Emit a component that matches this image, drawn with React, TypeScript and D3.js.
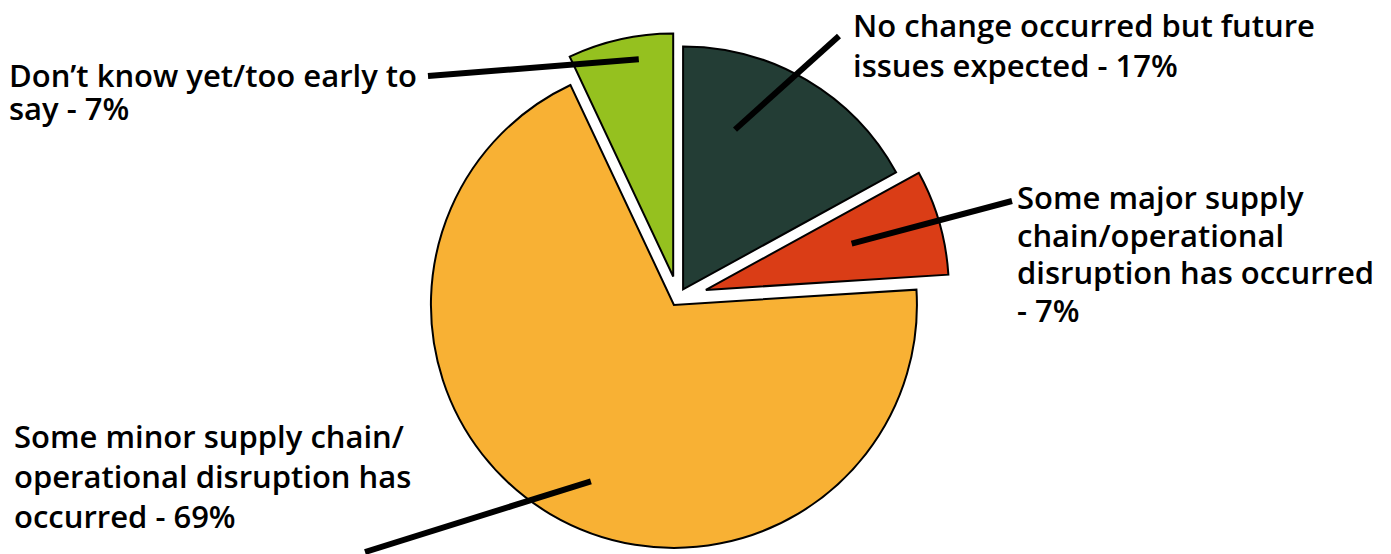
import React from "react";
import * as d3 from "d3";

const categories = [
  "No change occurred but future issues expected",
  "Some major supply chain/operational disruption has occurred",
  "Some minor supply chain/operational disruption has occurred",
  "Don’t know yet/too early to say",
];
const values = [17, 7, 69, 7];
const labelLines = [
  ["No change occurred but future", "issues expected - 17%"],
  ["Some major supply", "chain/operational", "disruption has occurred", "- 7%"],
  ["Some minor supply chain/", "operational disruption has", "occurred - 69%"],
  ["Don’t know yet/too early to", "say - 7%"],
];

const colors = ["#233d35", "#da3d16", "#f8b134", "#95c11f"];
const explode = [10, 29, 8, 22];
const W = 1391;
const H = 554;
const CX = 678;
const CY = 298;
const R = 243;

// label layout: text anchor, line spacing, leader start (angle frac offset within slice, radius), leader end
const labelLayout = [
  { x: 853, y: 37, dy: 40, size: 31, la: -0.035, lr: 168, ex: 839, ey: 36 },
  { x: 1017, y: 209, dy: 37.7, size: 31, la: -0.004, lr: 153, ex: 1012, ey: 201 },
  { x: 14, y: 448, dy: 40, size: 31, la: -0.015, lr: 195, ex: 365, ey: 552 },
  { x: 9, y: 87, dy: 32.5, size: 31, la: 0.01, lr: 220, ex: 428, ey: 76 },
];

export default function App() {
  const pie = d3.pie<number>().sort(null).value((d) => d)(values);
  const arc = d3.arc<d3.PieArcDatum<number>>().innerRadius(0).outerRadius(R);

  return (
    <svg
      width={W}
      height={H}
      style={{ position: "absolute", left: 0, top: 0, background: "#fff" }}
      fontFamily="'Open Sans', sans-serif"
    >
      {pie.map((p, i) => {
        const mid = (p.startAngle + p.endAngle) / 2;
        const ox = CX + explode[i] * Math.sin(mid);
        const oy = CY - explode[i] * Math.cos(mid);
        return (
          <path
            key={"s" + i}
            d={arc(p) as string}
            transform={`translate(${ox},${oy})`}
            fill={colors[i]}
            stroke="#000"
            strokeWidth={2}
            strokeLinejoin="miter"
          />
        );
      })}
      {pie.map((p, i) => {
        const mid = (p.startAngle + p.endAngle) / 2;
        const ox = CX + explode[i] * Math.sin(mid);
        const oy = CY - explode[i] * Math.cos(mid);
        const L = labelLayout[i];
        const a = mid + L.la * 2 * Math.PI;
        const sx = ox + L.lr * Math.sin(a);
        const sy = oy - L.lr * Math.cos(a);
        return (
          <line
            key={"l" + i}
            x1={sx}
            y1={sy}
            x2={L.ex}
            y2={L.ey}
            stroke="#000"
            strokeWidth={6}
          />
        );
      })}
      {labelLines.map((lines, i) => {
        const L = labelLayout[i];
        return (
          <text
            key={"t" + i}
            x={L.x}
            y={L.y}
            fontSize={L.size}
            fontWeight={600}
            fill="#000"
          >
            {lines.map((ln, j) => (
              <tspan key={j} x={L.x} y={L.y + j * L.dy}>
                {ln}
              </tspan>
            ))}
          </text>
        );
      })}
    </svg>
  );
}
